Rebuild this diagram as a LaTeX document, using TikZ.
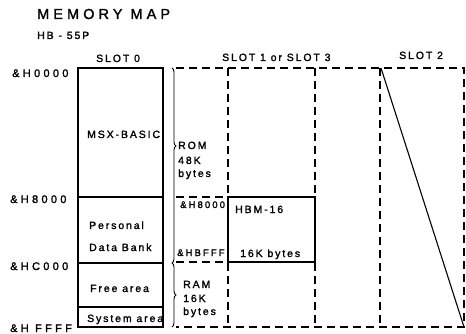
\documentclass[tikz,border=0pt]{standalone}
\usepackage{fontspec}
\setmainfont{Liberation Sans}[LetterSpace=18, FakeBold=1.6]
\usetikzlibrary{decorations.pathreplacing}
\begin{document}
\begin{tikzpicture}[x=1pt,y=-1pt,
  lbl/.style={inner sep=0pt, anchor=base west, font=\fontsize{10.5}{12}\selectfont},
  addr/.style={lbl, font=\fontsize{11}{12}\selectfont\addfontfeature{LetterSpace=30}},
  small/.style={lbl, font=\fontsize{9.5}{11}\selectfont\addfontfeature{LetterSpace=22}},
  title/.style={lbl, font=\fontsize{14.5}{16}\selectfont\addfontfeature{LetterSpace=28}},
  solidline/.style={line width=1.1pt},
  dsh/.style={line width=1.1pt, dash pattern=on 8pt off 5pt},
  bracestyle/.style={line width=0.9pt, decorate, decoration={brace, amplitude=4pt}}]
\useasboundingbox (0,0) rectangle (466,334);
% titles
\node[title] (t1) at (37,19) {MEMORY MAP};
\node[lbl] (t2) at (37,39) {HB - 55P};
\node[lbl] (s0) at (96,62) {SLOT 0};
\node[lbl] (s13) at (222,61) {SLOT 1 or SLOT 3};
\node[lbl] (s2) at (399,59) {SLOT 2};
% addresses
\node[addr] (a0) at (12,77) {\&H0000};
\node[addr] (a8) at (10,203) {\&H8000};
\node[addr] (ac) at (10,270) {\&HC000};
\node[addr] (af) at (10,332) {\&H FFFF};
% slot 0 box
\coordinate (b0tl) at (78,68);
\coordinate (b0br) at (163,327);
\draw[solidline] (b0tl) rectangle (b0br);
\draw[solidline] (78,197) -- (163,197);
\draw[solidline] (78,263) -- (163,263);
\draw[solidline] (78,307) -- (163,307);
\node[lbl] (msx) at (87,138) {MSX-BASIC};
\node[lbl] (pers) at (89,229) {Personal};
\node[lbl] (dbank) at (89,251) {Data Bank};
\node[lbl] (free) at (90,292) {Free area};
\node[lbl] (sys) at (87,322) {System area};
% braces
\draw[bracestyle, decoration={aspect=0.4}] (172,68) -- (172,263);
\draw[bracestyle] (172,263) -- (172,327);
\node[lbl] (rom1) at (178,149) {ROM};
\node[lbl] (rom2) at (178,164) {48K};
\node[lbl] (rom3) at (178,177) {bytes};
\node[lbl] (ram1) at (183,288) {RAM};
\node[lbl] (ram2) at (183,302) {16K};
\node[lbl] (ram3) at (183,315) {bytes};
% dashed frame
\coordinate (tl) at (176,68);
\coordinate (tr) at (464,68);
\coordinate (bl) at (176,327);
\coordinate (br) at (464,327);
\draw[dsh] (tl) -- (tr) -- (br) -- (bl);
\draw[dsh] (228,68) -- (228,327);
\draw[dsh] (315,68) -- (315,327);
\draw[dsh] (380,68) -- (380,327);
\draw[dsh] (176,197) -- (228,197);
\draw[dsh] (176,262) -- (228,262);
% HBM-16 box
\coordinate (hbtl) at (228,197);
\coordinate (hbbr) at (315,262);
\draw[solidline, fill=white] (hbtl) rectangle (hbbr);
\node[small] (h8) at (180,208) {\&H8000};
\node[small] (hb) at (177,256) {\&HBFFF};
\node[lbl] (hbm) at (235,213) {HBM-16};
\node[lbl] (hbk) at (240,257) {16K bytes};
% slot 2 diagonal
\coordinate (d1) at (381,68);
\coordinate (d2) at (464,327);
\draw[solidline] (d1) -- (d2);
\end{tikzpicture}
\end{document}
